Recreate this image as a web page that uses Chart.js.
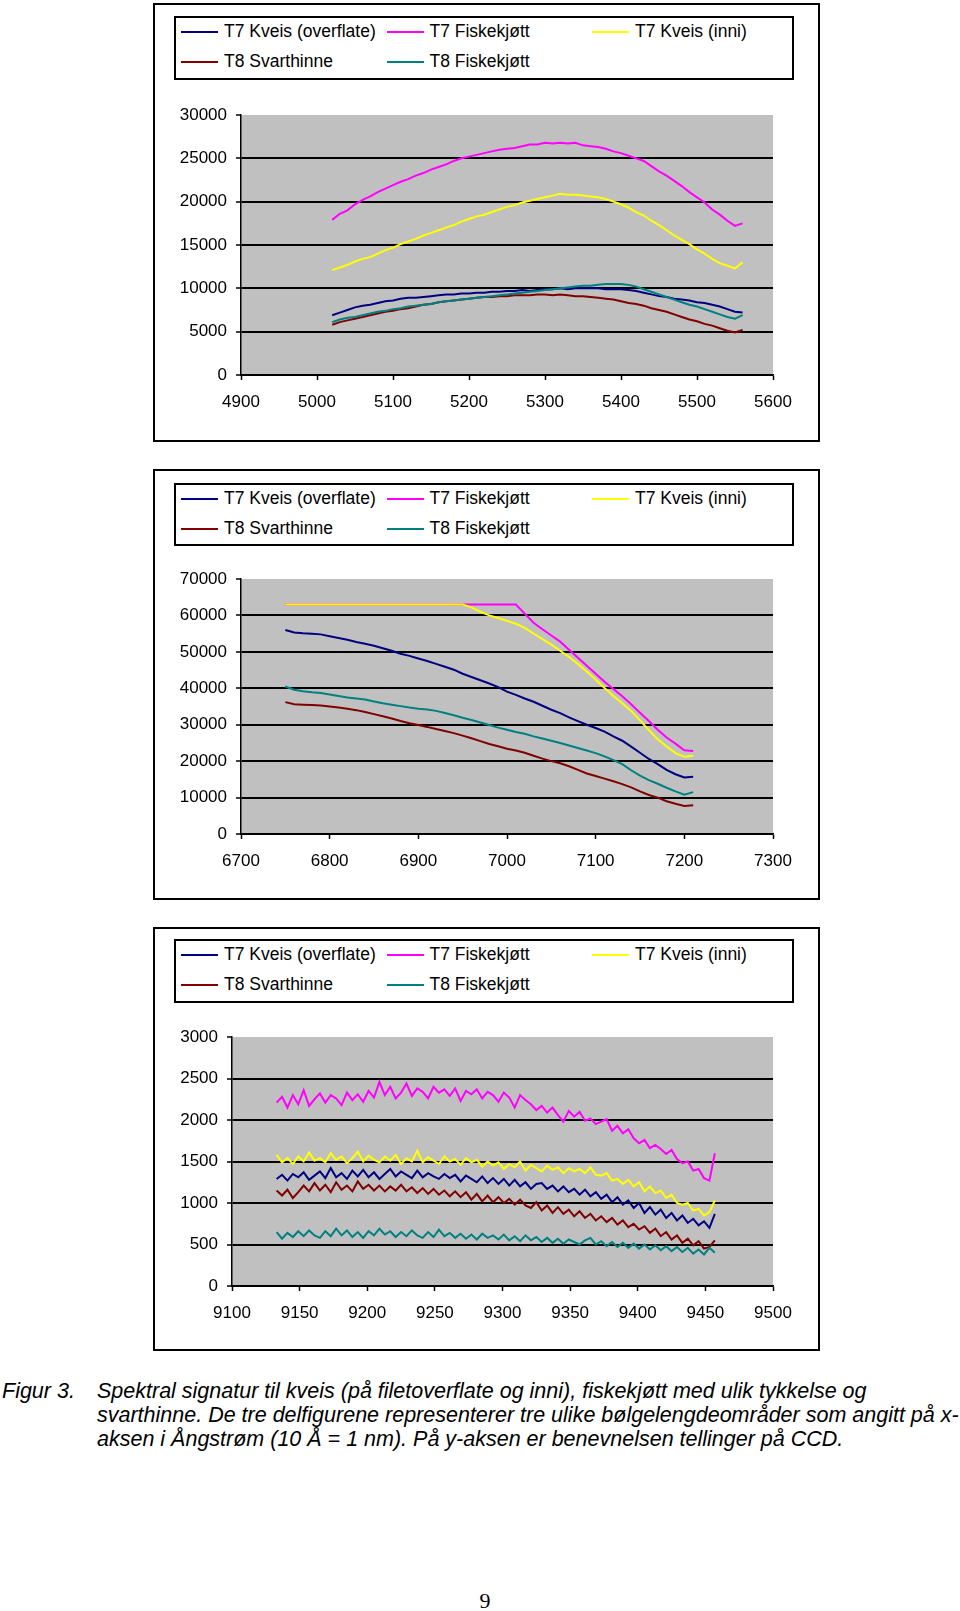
<!DOCTYPE html>
<html>
<head>
<meta charset="utf-8">
<script src="https://cdn.jsdelivr.net/npm/chart.js@4.4.1/dist/chart.umd.min.js"></script>
<style>
    body {
        margin: 0;
        width: 960px;
        height: 1611px;
        position: relative;
        background: #fff;
        font-family: "Liberation Sans", Arial, sans-serif;
        color: #000;
    }
    .panel {
        position: absolute;
        left: 153px;
        width: 667px;
        border: 2px solid #000;
        box-sizing: border-box;
    }
    .legend {
        position: absolute;
        left: 174px;
        width: 620px;
        height: 64px;
        border: 2px solid #000;
        box-sizing: border-box;
    }
    .legend-item {
        position: absolute;
        font-size: 17.5px;
        line-height: 20px;
        white-space: nowrap;
    }
    .legend-item .swatch {
        display: inline-block;
        width: 37px;
        height: 2px;
        vertical-align: middle;
        margin-right: 6px;
    }
    canvas {
        position: absolute;
        left: 160px;
    }
    .caption {
        position: absolute;
        top: 1379px;
        font-style: italic;
        font-size: 21.5px;
        line-height: 24.2px;
        white-space: nowrap;
    }
    .page-no {
        position: absolute;
        left: 465px;
        width: 40px;
        top: 1588px;
        text-align: center;
        font-family: "Liberation Serif", "DejaVu Serif", serif;
        font-size: 22px;
    }
</style>
</head>
<body>

<div class="panel" style="top:3px;height:439px"></div>
<div class="legend" id="legend1" style="top:16px"></div>
<canvas id="chart1" width="650" height="340" style="top:90px"></canvas>

<div class="panel" style="top:469px;height:431px"></div>
<div class="legend" id="legend2" style="top:483px;height:63px"></div>
<canvas id="chart2" width="650" height="340" style="top:550px"></canvas>

<div class="panel" style="top:927px;height:424px"></div>
<div class="legend" id="legend3" style="top:939px;height:64px"></div>
<canvas id="chart3" width="650" height="330" style="top:1010px"></canvas>

<div class="caption" style="left:2px">Figur 3.</div>
<div class="caption" style="left:97px">Spektral signatur til kveis (på filetoverflate og inni), fiskekjøtt med ulik tykkelse og<br>svarthinne. De tre delfigurene representerer tre ulike bølgelengdeområder som angitt på x-<br>aksen i Ångstrøm (10 Å = 1 nm). På y-aksen er benevnelsen tellinger på CCD.</div>

<div class="page-no">9</div>

<script>
// Series names and colours (same in all three panels)
const seriesNames = ['T7 Kveis (overflate)', 'T7 Fiskekjøtt', 'T7 Kveis (inni)', 'T8 Svarthinne', 'T8 Fiskekjøtt'];
const seriesColors = ['#000080', '#ff00ff', '#ffff00', '#800000', '#008080'];

// Panel 1: 5020-5560 Å
const wl1 = [5020, 5030, 5040, 5050, 5060, 5070, 5080, 5090, 5100, 5110, 5120, 5130, 5140, 5150, 5160, 5170, 5180, 5190, 5200, 5210,
    5220, 5230, 5240, 5250, 5260, 5270, 5280, 5290, 5300, 5310, 5320, 5330, 5340, 5350, 5360, 5370, 5380, 5390, 5400, 5410,
    5420, 5430, 5440, 5450, 5460, 5470, 5480, 5490, 5500, 5510, 5520, 5530, 5540, 5550, 5560];
const kveisOverflate1 = [6900, 7200, 7500, 7800, 8000, 8100, 8300, 8500, 8600, 8800, 8900, 8900, 9000, 9100, 9200, 9300, 9300, 9400, 9400, 9500,
    9500, 9600, 9600, 9700, 9700, 9800, 9700, 9800, 9900, 9900, 10000, 9900, 10000, 10000, 10000, 10000, 9900, 9900, 9900, 9800,
    9700, 9500, 9300, 9100, 9000, 8800, 8700, 8600, 8400, 8300, 8100, 7900, 7600, 7300, 7200];
const t7Fisk1 = [17900, 18600, 19000, 19700, 20200, 20600, 21100, 21500, 21900, 22300, 22600, 23000, 23300, 23700, 24000, 24300, 24700, 25000, 25200, 25400,
    25600, 25800, 26000, 26100, 26200, 26400, 26600, 26600, 26800, 26700, 26800, 26700, 26800, 26500, 26400, 26300, 26100, 25800, 25600, 25300,
    25000, 24700, 24100, 23500, 23000, 22400, 21800, 21100, 20500, 19900, 19100, 18500, 17800, 17200, 17500];
const kveisInni1 = [12100, 12400, 12700, 13100, 13400, 13600, 14000, 14400, 14700, 15100, 15400, 15700, 16100, 16400, 16700, 17000, 17300, 17700, 18000, 18300,
    18500, 18800, 19100, 19400, 19600, 19900, 20100, 20300, 20500, 20700, 20900, 20800, 20800, 20700, 20600, 20500, 20300, 20000, 19700, 19300,
    18800, 18400, 17800, 17300, 16700, 16100, 15600, 15100, 14500, 14000, 13400, 12900, 12600, 12300, 13000];
const svarthinne1 = [5800, 6100, 6300, 6500, 6700, 6900, 7100, 7300, 7400, 7600, 7700, 7900, 8100, 8200, 8400, 8500, 8600, 8700, 8800, 8900,
    9000, 9000, 9100, 9100, 9200, 9200, 9200, 9300, 9300, 9200, 9300, 9200, 9100, 9100, 9000, 8900, 8800, 8700, 8500, 8300,
    8200, 8000, 7700, 7500, 7300, 7000, 6700, 6400, 6200, 5900, 5700, 5400, 5100, 4900, 5200];
const t8Fisk1 = [6100, 6400, 6600, 6700, 6900, 7100, 7300, 7400, 7600, 7700, 7900, 8000, 8100, 8200, 8400, 8500, 8600, 8700, 8800, 8900,
    9000, 9100, 9200, 9300, 9400, 9500, 9600, 9700, 9800, 9900, 10000, 10100, 10200, 10300, 10300, 10400, 10500, 10500, 10500, 10400,
    10200, 9900, 9600, 9300, 9000, 8700, 8400, 8100, 7900, 7600, 7300, 7000, 6700, 6500, 6900];

// Panel 2: 6750-7210 Å
const wl2 = [6750, 6760, 6770, 6780, 6790, 6800, 6810, 6820, 6830, 6840, 6850, 6860, 6870, 6880, 6890, 6900, 6910, 6920, 6930, 6940,
    6950, 6960, 6970, 6980, 6990, 7000, 7010, 7020, 7030, 7040, 7050, 7060, 7070, 7080, 7090, 7100, 7110, 7120, 7130, 7140,
    7150, 7160, 7170, 7180, 7190, 7200, 7210];
const kveisOverflate2 = [56000, 55300, 55100, 55000, 54800, 54300, 53800, 53300, 52700, 52200, 51700, 51000, 50300, 49500, 48900, 48200, 47500, 46700, 45900, 45100,
    44000, 43100, 42200, 41300, 40300, 39100, 38200, 37200, 36300, 35200, 34100, 33200, 32000, 31000, 30000, 29100, 28100, 26800, 25600, 24000,
    22300, 20600, 19200, 17600, 16400, 15500, 15700];
const t7Fisk2 = [63000, 63000, 63000, 63000, 63000, 63000, 63000, 63000, 63000, 63000, 63000, 63000, 63000, 63000, 63000, 63000, 63000, 63000, 63000, 63000,
    63000, 63000, 63000, 63000, 63000, 63000, 63000, 60500, 58000, 56200, 54500, 52800, 50600, 48400, 46200, 44000, 41800, 39800, 37800, 35600,
    33300, 31000, 28600, 26500, 24800, 23000, 22800];
const kveisInni2 = [63000, 63000, 63000, 63000, 63000, 63000, 63000, 63000, 63000, 63000, 63000, 63000, 63000, 63000, 63000, 63000, 63000, 63000, 63000, 63000,
    63000, 62200, 61000, 60000, 59300, 58500, 57700, 56600, 55000, 53500, 52000, 50300, 48600, 46700, 44600, 42400, 40100, 37900, 35900, 33800,
    31200, 28500, 26000, 24000, 22200, 21200, 21500];
const svarthinne2 = [36200, 35600, 35500, 35400, 35300, 35000, 34700, 34400, 34000, 33500, 32900, 32300, 31700, 31000, 30400, 29900, 29400, 28800, 28300, 27700,
    27000, 26300, 25500, 24700, 24100, 23400, 22900, 22300, 21500, 20700, 20000, 19400, 18600, 17600, 16600, 15900, 15200, 14500, 13700, 12800,
    11700, 10700, 10000, 9000, 8300, 7700, 7900];
const t8Fisk2 = [40500, 39600, 39200, 38900, 38700, 38300, 37900, 37500, 37200, 36900, 36400, 35900, 35500, 35100, 34700, 34400, 34200, 33800, 33200, 32600,
    31900, 31300, 30600, 29900, 29200, 28600, 28000, 27500, 26800, 26200, 25600, 25000, 24300, 23600, 22900, 22200, 21300, 20300, 19200, 17500,
    16000, 14800, 13800, 12700, 11700, 10800, 11500];

// Panel 3: 9133-9457 Å
const wl3 = [9133, 9137, 9141, 9145, 9149, 9153, 9157, 9161, 9165, 9169, 9173, 9177, 9181, 9185, 9189, 9193, 9197, 9201, 9205, 9209,
    9213, 9217, 9221, 9225, 9229, 9233, 9237, 9241, 9245, 9249, 9253, 9257, 9261, 9265, 9269, 9273, 9277, 9281, 9285, 9289,
    9293, 9297, 9301, 9305, 9309, 9313, 9317, 9321, 9325, 9329, 9333, 9337, 9341, 9345, 9349, 9353, 9357, 9361, 9365, 9369,
    9373, 9377, 9381, 9385, 9389, 9393, 9397, 9401, 9405, 9409, 9413, 9417, 9421, 9425, 9429, 9433, 9437, 9441, 9445, 9449,
    9453, 9457];
const kveisOverflate3 = [1290, 1340, 1270, 1350, 1310, 1370, 1280, 1330, 1380, 1300, 1420, 1310, 1360, 1290, 1390, 1320, 1400, 1310, 1370, 1290,
    1350, 1410, 1320, 1380, 1340, 1300, 1390, 1310, 1360, 1320, 1290, 1350, 1300, 1340, 1260, 1330, 1290, 1250, 1320, 1240,
    1300, 1230, 1290, 1210, 1280, 1200, 1250, 1170, 1230, 1240, 1170, 1210, 1140, 1200, 1130, 1170, 1100, 1160, 1080, 1130,
    1050, 1100, 1010, 1070, 980, 1030, 940, 1000, 880, 950, 860, 920, 820, 880, 790, 850, 760, 810, 730, 780,
    700, 870];
const t7Fisk3 = [2210, 2280, 2150, 2300, 2190, 2360, 2170, 2250, 2320, 2210, 2300, 2260, 2180, 2330, 2240, 2310, 2220, 2350, 2270, 2460,
    2300, 2400, 2260, 2330, 2440, 2290, 2380, 2340, 2260, 2400, 2330, 2370, 2290, 2380, 2230, 2350, 2310, 2370, 2260, 2340,
    2300, 2220, 2330, 2270, 2150, 2300, 2240, 2190, 2120, 2170, 2090, 2150, 2060, 1980, 2110, 2040, 2100, 1990, 2020, 1950,
    1980, 2010, 1870, 1930, 1840, 1890, 1780, 1720, 1760, 1660, 1700, 1650, 1590, 1640, 1530, 1480, 1500, 1390, 1410, 1300,
    1270, 1600];
const kveisInni3 = [1580, 1490, 1540, 1470, 1560, 1500, 1610, 1510, 1540, 1490, 1600, 1520, 1560, 1480, 1540, 1620, 1500, 1570, 1520, 1490,
    1560, 1510, 1580, 1470, 1540, 1500, 1630, 1490, 1550, 1510, 1470, 1560, 1500, 1530, 1460, 1540, 1490, 1520, 1440, 1500,
    1450, 1490, 1410, 1470, 1430, 1500, 1390, 1460, 1420, 1380, 1450, 1400, 1430, 1360, 1420, 1380, 1410, 1360, 1430, 1340,
    1330, 1360, 1270, 1290, 1230, 1280, 1200, 1250, 1140, 1200, 1120, 1150, 1060, 1100, 1000, 980, 1000, 910, 930, 850,
    890, 1030];
const svarthinne3 = [1150, 1090, 1160, 1060, 1130, 1210, 1140, 1240, 1150, 1220, 1130, 1250, 1160, 1210, 1140, 1260, 1170, 1220, 1150, 1210,
    1140, 1200, 1150, 1220, 1140, 1190, 1120, 1180, 1110, 1170, 1100, 1150, 1080, 1140, 1070, 1130, 1040, 1110, 1020, 1090,
    1010, 1070, 1000, 1050, 980, 1040, 970, 940, 1010, 910, 970, 880, 950, 870, 920, 840, 900, 820, 870, 790,
    840, 770, 820, 740, 790, 710, 750, 680, 720, 640, 690, 600, 650, 560, 610, 520, 570, 490, 540, 450,
    470, 550];
const t8Fisk3 = [650, 570, 640, 590, 660, 600, 670, 610, 580, 660, 600, 690, 610, 670, 590, 650, 580, 660, 610, 690,
    620, 660, 590, 650, 600, 670, 610, 580, 650, 590, 680, 600, 640, 580, 630, 570, 620, 560, 630, 580,
    610, 560, 620, 550, 600, 540, 610, 550, 590, 530, 580, 520, 570, 510, 560, 530, 500, 550, 580, 500,
    540, 480, 530, 470, 520, 460, 510, 450, 500, 440, 490, 430, 480, 420, 470, 410, 460, 390, 440, 380,
    460, 400];

// Legend grid position (column, row) for each series
const legendSlots = [[0, 0], [1, 0], [2, 0], [0, 1], [1, 1]];

const fontFamily = '"Liberation Sans", Arial, sans-serif';

// Grey plot area like the spreadsheet original
const plotBackground = {
    id: 'plotBackground',
    beforeDraw(chart) {
        const { ctx, chartArea } = chart;
        ctx.save();
        ctx.fillStyle = '#c0c0c0';
        ctx.fillRect(chartArea.left, chartArea.top, chartArea.right - chartArea.left, chartArea.bottom - chartArea.top);
        ctx.restore();
    }
};

// Build the boxed legend
function buildLegend(id) {
    const box = document.getElementById(id);
    seriesNames.forEach((name, i) => {
        const item = document.createElement('div');
        item.classList.add('legend-item');
        item.style.left = (5 + legendSlots[i][0] * 205.5) + 'px';
        item.style.top = (3 + legendSlots[i][1] * 30) + 'px';

        const swatch = document.createElement('span');
        swatch.classList.add('swatch');
        swatch.style.background = seriesColors[i];

        item.appendChild(swatch);
        item.appendChild(document.createTextNode(name));
        box.appendChild(item);
    });
}

function makeChart(id, wl, seriesValues, opts) {
    const ctx = document.getElementById(id).getContext('2d');

    const datasets = seriesValues.map((values, i) => ({
        label: seriesNames[i],
        data: values.map((v, j) => ({ x: wl[j], y: v })),
        borderColor: seriesColors[i],
        backgroundColor: seriesColors[i],
        borderWidth: 2,
        pointRadius: 0,
        tension: 0,
        fill: false,
        order: seriesValues.length - i // later series drawn on top
    }));

    return new Chart(ctx, {
        type: 'line',
        data: { datasets: datasets },
        plugins: [plotBackground],
        options: {
            responsive: false,
            animation: false,
            layout: {
                padding: { left: 0, top: opts.padTop, right: opts.padRight, bottom: opts.padBottom }
            },
            plugins: {
                legend: { display: false },
                tooltip: { enabled: false }
            },
            scales: {
                x: {
                    type: 'linear',
                    min: opts.xMin,
                    max: opts.xMax,
                    ticks: {
                        stepSize: opts.xStep,
                        color: '#000',
                        font: { family: fontFamily, size: 17 },
                        padding: 12,
                        maxRotation: 0,
                        autoSkip: false,
                        callback: value => String(value)
                    },
                    grid: {
                        drawOnChartArea: false,
                        drawTicks: true,
                        tickLength: 5,
                        tickColor: '#000',
                        tickWidth: 1.5
                    },
                    border: { display: true, color: '#000', width: 1.5 },
                    afterFit: scale => { scale.height = 40; }
                },
                y: {
                    min: 0,
                    max: opts.yMax,
                    ticks: {
                        stepSize: opts.yStep,
                        color: '#000',
                        font: { family: fontFamily, size: 17 },
                        padding: 9,
                        callback: value => String(value)
                    },
                    grid: {
                        color: c => (c.tick && c.tick.value === opts.yMax) ? 'rgba(0,0,0,0)' : '#000',
                        lineWidth: 2,
                        tickLength: 5,
                        tickColor: '#000',
                        tickWidth: 1.5
                    },
                    border: { display: true, color: '#000', width: 1.5 },
                    afterFit: scale => { scale.width = opts.yWidth; }
                }
            }
        }
    });
}

buildLegend('legend1');
buildLegend('legend2');
buildLegend('legend3');

makeChart('chart1', wl1, [kveisOverflate1, t7Fisk1, kveisInni1, svarthinne1, t8Fisk1], {
    xMin: 4900, xMax: 5600, xStep: 100, yMax: 30000, yStep: 5000,
    yWidth: 81, padTop: 25, padRight: 37, padBottom: 15
});

makeChart('chart2', wl2, [kveisOverflate2, t7Fisk2, kveisInni2, svarthinne2, t8Fisk2], {
    xMin: 6700, xMax: 7300, xStep: 100, yMax: 70000, yStep: 10000,
    yWidth: 81, padTop: 29, padRight: 37, padBottom: 16
});

makeChart('chart3', wl3, [kveisOverflate3, t7Fisk3, kveisInni3, svarthinne3, t8Fisk3], {
    xMin: 9100, xMax: 9500, xStep: 50, yMax: 3000, yStep: 500,
    yWidth: 72, padTop: 27, padRight: 37, padBottom: 14
});
</script>
</body>
</html>
